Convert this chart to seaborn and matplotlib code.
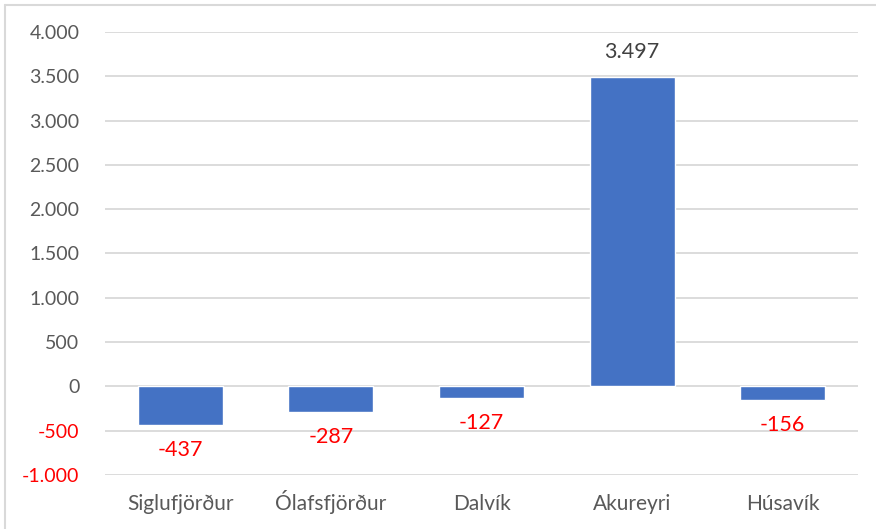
import matplotlib
matplotlib.use("Agg")
import matplotlib.pyplot as plt
import seaborn as sns
import pandas as pd
from matplotlib.lines import Line2D
from matplotlib.ticker import FuncFormatter

categories = ["Siglufjörður", "Ólafsfjörður", "Dalvík", "Akureyri", "Húsavík"]
values = [-437, -287, -127, 3497, -156]
yticks = [-1000, -500, 0, 500, 1000, 1500, 2000, 2500, 3000, 3500, 4000]

sns.set_theme(style="white")
plt.rcParams["font.family"] = ["Lato", "DejaVu Sans"]

df = pd.DataFrame({"cat": categories, "val": values})

fig = plt.figure(figsize=(8.76, 5.29), dpi=100)
ax = fig.add_axes([0.1199, 0.1021, 0.8596, 0.8374])

sns.barplot(data=df, x="cat", y="val", color="#4472C4", saturation=1,
            width=0.565, ax=ax, zorder=3)

ax.set_ylim(-1000, 4000)
ax.set_xlim(-0.5, len(categories) - 0.5)
ax.set_yticks(yticks)

def fmt(v, pos):
    return f"{int(v):,}".replace(",", ".")
ax.yaxis.set_major_formatter(FuncFormatter(fmt))

ax.grid(axis="y", color="#d9d9d9", linewidth=1.3, zorder=0)
ax.grid(axis="x", visible=False)
for s in ax.spines.values():
    s.set_visible(False)
ax.tick_params(axis="both", length=0, colors="#595959")
ax.tick_params(axis="y", pad=18.5, labelsize=14)
ax.tick_params(axis="x", pad=25, labelsize=15)
for lab in ax.get_xticklabels():
    lab.set_verticalalignment("baseline")
for lab, t in zip(ax.get_yticklabels(), yticks):
    if t < 0:
        lab.set_color("#FF0000")
ax.set_xlabel("")
ax.set_ylabel("")

for i, v in enumerate(values):
    label = f"{v:,}".replace(",", ".")
    if v >= 0:
        ax.annotate(label, (i, v), xytext=(0, 17.7), textcoords="offset points",
                    ha="center", va="center", fontsize=15.5, color="#404040")
    else:
        ax.annotate(label, (i, v), xytext=(0, -18), textcoords="offset points",
                    ha="center", va="center", fontsize=15.5, color="#FF0000")

# outer chart border (top and left visible)
fig.add_artist(Line2D([5/876, 1.0], [1 - 5/529, 1 - 5/529], transform=fig.transFigure,
                      color="#d9d9d9", linewidth=1.5))
fig.add_artist(Line2D([5/876, 5/876], [0, 1 - 5/529], transform=fig.transFigure,
                      color="#d9d9d9", linewidth=1.5))

fig.savefig("out.png", dpi=100)
